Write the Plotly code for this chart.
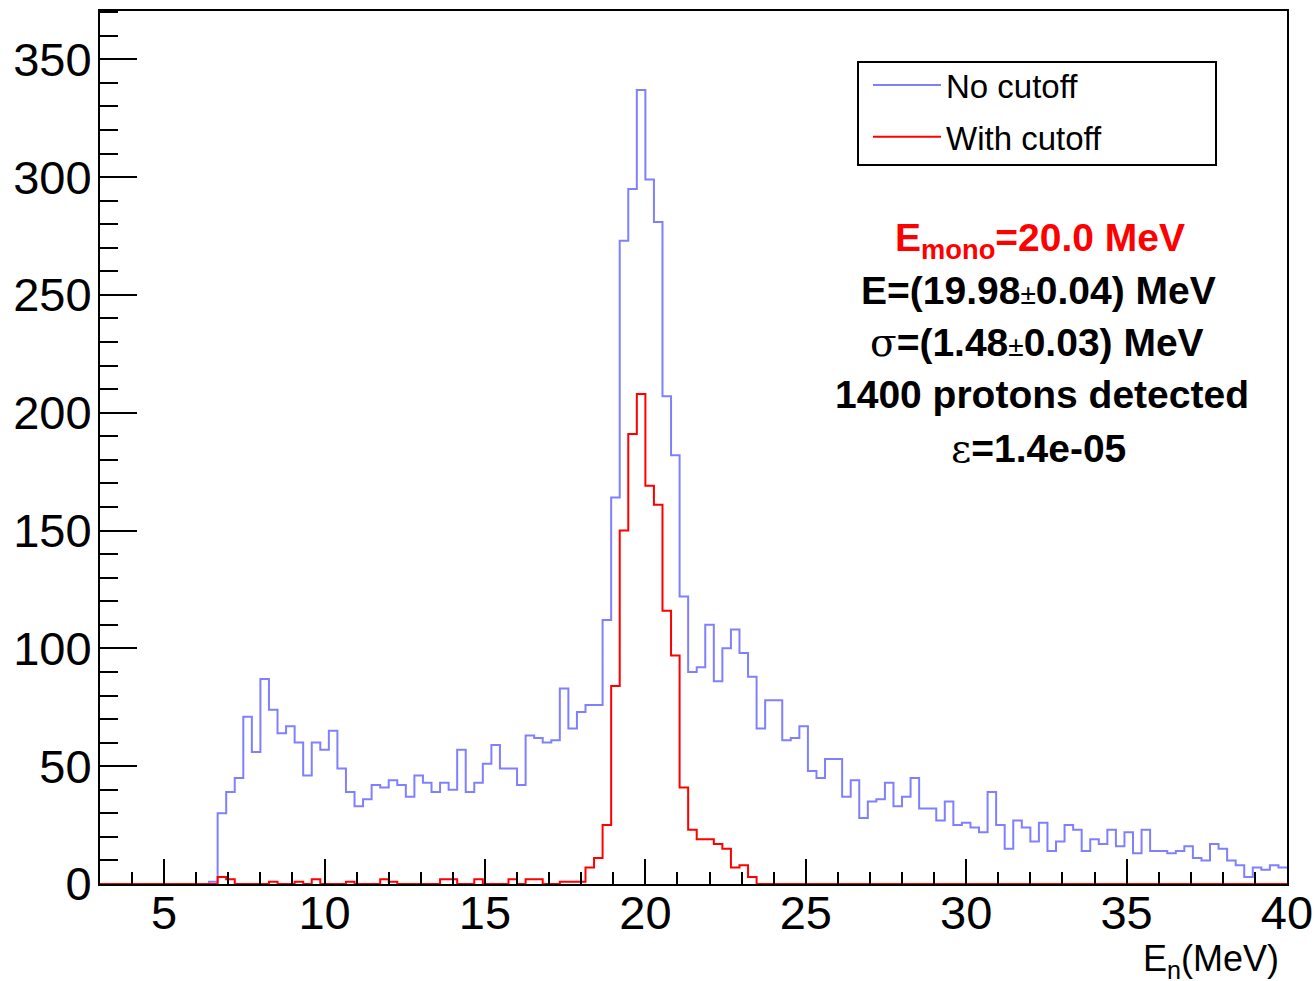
import numpy as np
import plotly.graph_objects as go

# Histogram definition (ROOT TH1: 150 bins from 0 to 40 MeV)
hist_lo = 0.0
hist_hi = 40.0
n_bins = 150
first_bin = 24  # bins before this are empty

# Counts per bin, starting at bin index `first_bin`
no_cutoff_counts = [
    1, 30, 39, 45, 71, 56, 87, 74, 64, 67, 60, 46, 60, 57, 65, 49, 39, 33, 36, 42,
    41, 44, 42, 37, 46, 43, 39, 43, 40, 57, 39, 43, 51, 59, 49, 49, 42, 63, 62, 60,
    61, 83, 66, 73, 76, 76, 112, 164, 273, 295, 337, 299, 281, 207, 182, 122, 90, 92, 110, 86,
    100, 108, 98, 88, 66, 78, 78, 61, 62, 67, 48, 45, 53, 53, 37, 44, 28, 35, 36, 43,
    33, 37, 45, 32, 32, 27, 35, 25, 26, 24, 22, 39, 25, 15, 27, 24, 18, 26, 14, 18,
    25, 23, 14, 19, 17, 23, 16, 22, 13, 23, 14, 14, 13, 14, 16, 11, 10, 17, 15, 10,
    8, 3, 7, 6, 8, 7,
]
with_cutoff_counts = [
    0, 3, 2, 0, 0, 0, 0, 1, 0, 0, 1, 0, 2, 0, 0, 0, 1, 0, 0, 0,
    2, 1, 0, 0, 0, 0, 0, 2, 2, 0, 0, 2, 0, 0, 0, 2, 0, 2, 2, 0,
    0, 1, 1, 1, 7, 11, 25, 84, 150, 191, 208, 169, 161, 116, 97, 41, 23, 19, 19, 17,
    15, 7, 8, 3,
]

x_ticks = [5, 10, 15, 20, 25, 30, 35, 40]
y_ticks = [0, 50, 100, 150, 200, 250, 300, 350]
x_range = [3, 40]
y_range = [0, 370.5]

legend_names = ["No cutoff", "With cutoff"]
PM = "<span style=\"font-weight:normal;font-size:28px\">±</span>"
SERIF = "<span style=\"font-family:'DejaVu Serif';font-weight:normal\">{}</span>"
info_lines = [
    ("E<sub>mono</sub>=20.0 MeV", "#ff0000"),
    ("E=(19.98" + PM + "0.04) MeV", "#000000"),
    (SERIF.format("σ") + "=(1.48" + PM + "0.03) MeV", "#000000"),
    ("1400 protons detected", "#000000"),
    (SERIF.format("ε") + "=1.4e-05", "#000000"),
]


def full_counts(partial):
    arr = np.zeros(n_bins)
    arr[first_bin:first_bin + len(partial)] = partial
    return arr


edges = np.linspace(hist_lo, hist_hi, n_bins + 1)
blue = full_counts(no_cutoff_counts)
red = full_counts(with_cutoff_counts)

FONT = "Liberation Sans, Arial, sans-serif"

fig = go.Figure()
fig.add_trace(go.Scatter(
    x=edges, y=np.append(blue, blue[-1]), mode="lines", line_shape="hv",
    line=dict(color="#8080ff", width=2), name=legend_names[0], legendgroup="a",
))
fig.add_trace(go.Scatter(
    x=edges, y=np.append(red, red[-1]), mode="lines", line_shape="hv",
    line=dict(color="#ff0000", width=2), name=legend_names[1], legendgroup="b",
))

# plot area geometry (pixels)
L, R, T, B = 100, 28, 11, 97
W = 1315 - L - R
H = 981 - T - B


def px(xp):
    return (xp - L) / W


def py(yp):
    return (981 - B - yp) / H


centers_x = [1040, 1038, 1037, 1042, 1038]
centers_y = [241, 290, 342, 394, 448]
for (txt, col), cx, cy in zip(info_lines, centers_x, centers_y):
    fig.add_annotation(
        x=px(cx), y=py(cy), xref="paper", yref="paper", text="<b>" + txt + "</b>",
        showarrow=False, xanchor="center", yanchor="middle",
        font=dict(family=FONT, size=39, color=col),
    )

fig.add_annotation(
    x=px(1281), y=py(961), xref="paper", yref="paper", text="E<sub>n</sub>(MeV)",
    showarrow=False, xanchor="right", yanchor="middle",
    font=dict(family=FONT, size=36, color="black"),
)

# legend frame
fig.add_shape(type="rect", xref="paper", yref="paper",
              x0=px(858), x1=px(1216), y0=py(165), y1=py(62),
              line=dict(color="black", width=2), fillcolor="rgba(0,0,0,0)")

fig.update_layout(
    width=1315, height=981, autosize=False,
    margin=dict(l=L, r=R, t=T, b=B, autoexpand=False),
    paper_bgcolor="white", plot_bgcolor="white",
    font=dict(family=FONT, color="black"),
    showlegend=True,
    legend=dict(
        x=px(868), y=py(57), xanchor="left", yanchor="top",
        font=dict(family=FONT, size=33, color="black"),
        bgcolor="rgba(0,0,0,0)", borderwidth=0,
        itemwidth=68, tracegroupgap=6,
    ),
    xaxis=dict(
        range=x_range, tickvals=x_ticks, ticks="inside", ticklen=25, tickwidth=2,
        tickcolor="black", showline=True, linecolor="black", linewidth=2,
        mirror=True, showgrid=False, zeroline=False, automargin=False,
        ticklabeloverflow="allow",
        tickfont=dict(family=FONT, size=47, color="black"),
        ticklabelstandoff=-13,
        minor=dict(ticks="inside", dtick=1, ticklen=12, tickwidth=2, tickcolor="black", showgrid=False),
    ),
    yaxis=dict(
        range=y_range, tickvals=y_ticks, ticks="inside", ticklen=37, tickwidth=2,
        tickcolor="black", showline=True, linecolor="black", linewidth=2,
        mirror=True, showgrid=False, zeroline=False, automargin=False,
        tickfont=dict(family=FONT, size=47, color="black"),
        ticklabelstandoff=-3,
        minor=dict(ticks="inside", dtick=10, ticklen=18, tickwidth=2, tickcolor="black", showgrid=False),
    ),
)

fig.write_html("out.html", config={"responsive": False})
